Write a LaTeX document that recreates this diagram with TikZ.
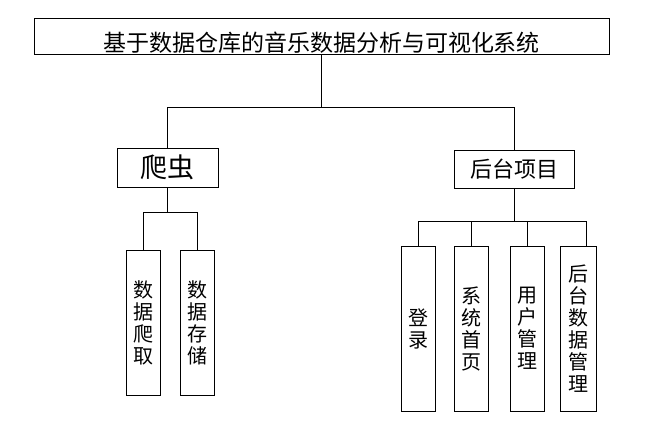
\documentclass[tikz,border=0pt]{standalone}
\usepackage{fontspec}
\newfontfamily\cjk{Noto Sans CJK SC}
\usetikzlibrary{calc}

\begin{document}
\begin{tikzpicture}[x=1pt, y=-1pt, line width=0.8pt]
\tikzstyle{box}=[draw, inner sep=0pt, font=\cjk]
\tikzstyle{vbox}=[box, minimum width=34pt, align=center, font=\cjk\fontsize{20}{22}\selectfont]
	\useasboundingbox (0,0) rectangle (670,424);
	\node[box, minimum width=575pt, text height=33.5pt, text depth=2.5pt, font=\cjk\fontsize{23}{26}\selectfont] (title) at (321.5,36) {基于数据仓库的音乐数据分析与可视化系统};
	\node[box, minimum width=101pt, minimum height=39pt, font=\cjk\fontsize{27}{30}\selectfont] (crawler) at (167.5,167.5) {爬虫};
	\node[box, minimum width=120pt, minimum height=38pt, font=\cjk\fontsize{22}{24}\selectfont] (backend) at (514,169) {后台项目};
	% crawler parts
	\node[vbox, minimum height=145pt] (fetch) at (143.5,322.5) {数\\据\\爬\\取};
	\node[vbox, minimum height=145pt] (store) at (197.5,322.5) {数\\据\\存\\储};
	% backend parts
	\node[vbox, minimum height=165pt] (login) at (418.5,328.5) {登\\录};
	\node[vbox, minimum height=165pt] (home) at (471.5,328.5) {系\\统\\首\\页};
	\node[vbox, minimum height=165pt] (users) at (527,328.5) {用\\户\\管\\理};
	\node[vbox, minimum height=165pt, minimum width=36pt] (manage) at (578,328.5) {后\\台\\数\\据\\管\\理};

	\coordinate (top) at (321.5,107);
	\coordinate (left) at (167.5,212);
	\coordinate (right) at (514,221);

	\draw (title.south) -- (top);
	\draw (top) -| (crawler.north);
	\draw (top) -| (backend.north);
	\draw (crawler.south) -- (left);
	\draw (left) -| (fetch.north);
	\draw (left) -| (store.north);
	\draw (backend.south) -- (right);
	\draw (right) -| (login.north);
	\draw (right) -| (home.north);
	\draw (right) -| (users.north);
	\draw (right) -| ($(manage.north)+(8,0)$);
\end{tikzpicture}
\end{document}
